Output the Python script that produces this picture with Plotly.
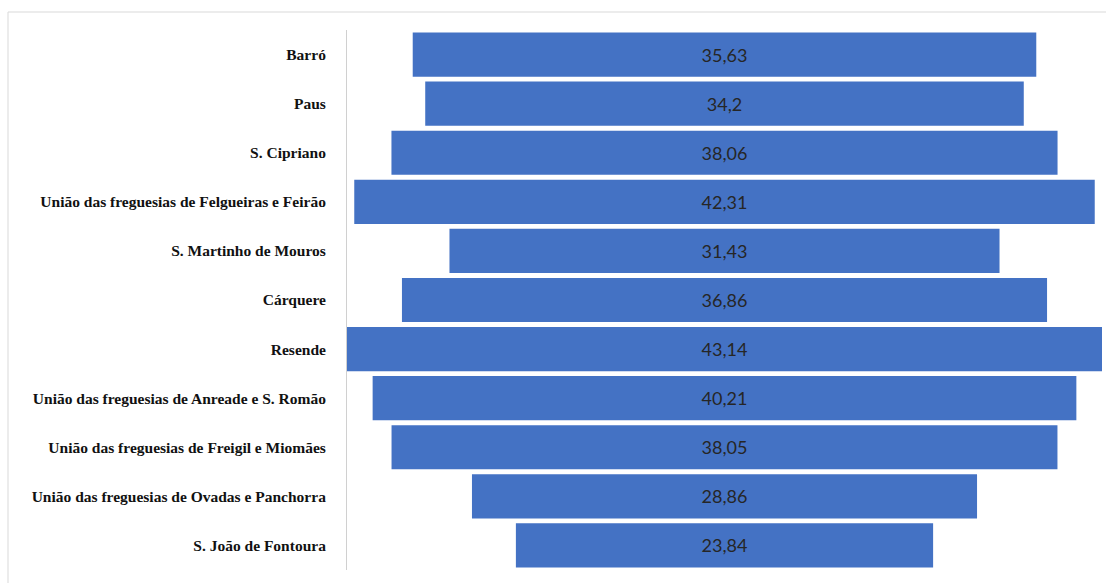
import plotly.graph_objects as go

categories = ["Barró", "Paus", "S. Cipriano", "União das freguesias de Felgueiras e Feirão",
              "S. Martinho de Mouros", "Cárquere", "Resende",
              "União das freguesias de Anreade e S. Romão",
              "União das freguesias de Freigil e Miomães",
              "União das freguesias de Ovadas e Panchorra", "S. João de Fontoura"]
values = [35.63, 34.2, 38.06, 42.31, 31.43, 36.86, 43.14, 40.21, 38.05, 28.86, 23.84]
labels = [("%g" % v).replace(".", ",") for v in values]

fig = go.Figure(go.Funnel(
    y=categories, x=values, text=labels, textinfo="text",
    textposition="inside", insidetextanchor="middle",
    textfont=dict(family="Lato, Open Sans, sans-serif", size=18, color="#262626"),
    marker=dict(color="#4472C4", line=dict(width=0)),
    connector=dict(visible=False),
    hoverinfo="y+x",
))
m = max(values) / 2
fig.update_layout(
    width=1106, height=583,
    margin=dict(l=347, r=4, t=30, b=13),
    paper_bgcolor="white", plot_bgcolor="white",
    funnelgap=0.1,
    showlegend=False,
    xaxis=dict(visible=False, range=[-m, m]),
    yaxis=dict(showline=True, linecolor="#d0d0d0", linewidth=1, ticks="",
               tickfont=dict(family="Liberation Serif, serif", size=15.5, color="#111111",
                             weight="bold"),
               ticklabelstandoff=17),
    font=dict(family="Liberation Serif"),
)
# outer chart border
fig.add_shape(type="line", xref="paper", yref="paper",
              x0=(8-347)/755, x1=(8-347)/755, y0=-13/540, y1=(583-12-13)/540,
              line=dict(color="#d9d9d9", width=1))
fig.add_shape(type="line", xref="paper", yref="paper",
              x0=(8-347)/755, x1=1.01, y0=(583-12-13)/540, y1=(583-12-13)/540,
              line=dict(color="#d9d9d9", width=1))
fig.write_html("out.html")
